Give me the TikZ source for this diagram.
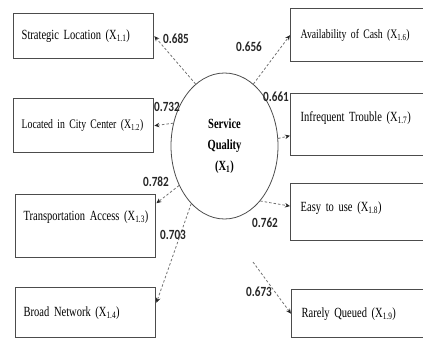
\documentclass[tikz,border=0pt]{standalone}
\usepackage{fontspec}
\setmainfont{Liberation Serif}[FakeStretch=0.75]
\newfontfamily\chiffres{Carlito}[FakeStretch=0.8]
\usetikzlibrary{shapes.geometric,arrows.meta}

\begin{document}
\begin{tikzpicture}[x=1pt,y=-1pt,
  boite/.style={draw=black!70,line width=1.4pt,anchor=north west,align=left,font={\fontsize{14}{16}\selectfont\spaceskip=2.6pt plus 1pt}},
  gauche/.style={boite,text width=124pt,inner xsep=8pt},
  droite/.style={boite,text width=118pt,inner xsep=10pt},
  fleche/.style={draw=black!55,dash pattern=on 2.5pt off 2pt,line width=0.8pt,-{Stealth[length=5pt,width=4.5pt,black!85]}},
  coef/.style={font=\chiffres\bfseries\fontsize{14}{15}\selectfont,text=black!85,inner sep=0pt}]

\useasboundingbox (0,0) rectangle (423,339);

% variable latente
\node[ellipse,draw=black!70,line width=0.8pt,minimum width=107pt,minimum height=146pt,align=center,
  font=\bfseries\fontsize{14}{21}\selectfont] (sq) at (224.5,146) {Service\\Quality\\(X\textsubscript{1})};

% indicateurs a gauche
\node[gauche,minimum height=45pt] (x11) at (13,13) {\mbox{Strategic Location (X\textsubscript{1.1})}};
\node[gauche,minimum height=54pt,font={\fontsize{13}{15}\selectfont\spaceskip=2.4pt}] (x12) at (13,98) {\mbox{Located in City Center (X\textsubscript{1.2})}};
\node[gauche,minimum height=63pt,text depth=21pt] (x13) at (15,194) {\mbox{Transportation Access (X\textsubscript{1.3})}};
\node[gauche,minimum height=50pt] (x14) at (15,287) {\mbox{Broad Network (X\textsubscript{1.4})}};

% indicateurs a droite
\node[droite,minimum height=53pt,font={\fontsize{13}{15}\selectfont\spaceskip=2.4pt}] (x16) at (290,8) {\mbox{Availability of Cash (X\textsubscript{1.6})}};
\node[droite,minimum height=62pt,text depth=17pt] (x17) at (290,93) {\mbox{Infrequent Trouble (X\textsubscript{1.7})}};
\node[droite,minimum height=57pt,text depth=12pt] (x18) at (290,183) {\mbox{Easy to use (X\textsubscript{1.8})}};
\node[droite,minimum height=48pt] (x19) at (291,289) {\mbox{Rarely Queued (X\textsubscript{1.9})}};

% fleches
\coordinate (d19) at (253,262);
\draw[fleche] (sq.115) -- (x11.east);
\draw[fleche] (sq.156) -- (x12.east);
\draw[fleche] (sq.221) -- (x13.18);
\draw[fleche] (sq.240) -- (x14.8);
\draw[fleche] (sq.65) -- (x16.west);
\draw[fleche] (sq.8) -- (x17.189);
\draw[fleche] (sq.303) -- (x18.175);
\draw[fleche] (d19) -- (x19.west);

% coefficients
\node[coef] (c11) at (176,39) {0.685};
\node[coef] (c12) at (167,107) {0.732};
\node[coef] (c13) at (156,182) {0.782};
\node[coef] (c14) at (173,235) {0.703};
\node[coef] (c16) at (249,47) {0.656};
\node[coef] (c17) at (276,97) {0.661};
\node[coef] (c18) at (265,223) {0.762};
\node[coef] (c19) at (259,292) {0.673};

\end{tikzpicture}
\end{document}
